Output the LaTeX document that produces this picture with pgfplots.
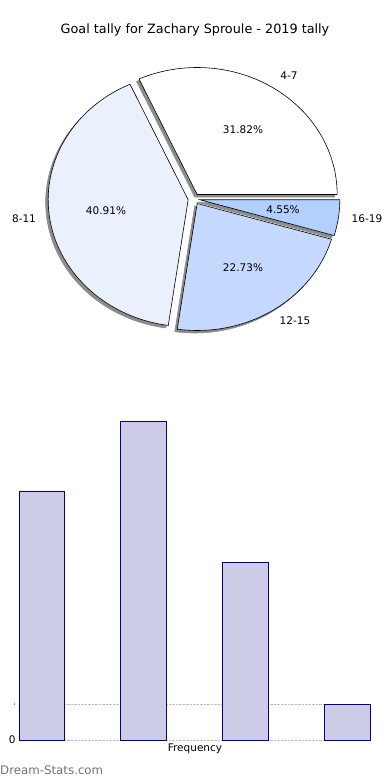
\documentclass[border=0pt]{standalone}
\usepackage{fontspec}
\setmainfont{DejaVu Sans}
\usepackage{pgfplots}
\pgfplotsset{compat=1.18}
\definecolor{cA}{RGB}{255,255,255}
\definecolor{cB}{RGB}{234,241,253}
\definecolor{cC}{RGB}{197,216,253}
\definecolor{cD}{RGB}{178,208,254}
\definecolor{barfill}{RGB}{204,204,230}
\definecolor{baredge}{RGB}{0,0,150}
\definecolor{shadowc}{RGB}{140,140,140}

% data: goal tally counts per range
\def\nA{7}\def\nB{9}\def\nC{5}\def\nD{1}
\pgfmathsetmacro\tot{\nA+\nB+\nC+\nD}
\pgfmathsetmacro\aA{360*\nA/\tot}
\pgfmathsetmacro\aB{\aA+360*\nB/\tot}
\pgfmathsetmacro\aC{\aB+360*\nC/\tot}
\def\aD{360}
\def\RX{140}\def\RY{127}
\newcommand\mkoff[3]{%
  \pgfmathsetmacro\tmpm{(#2+#3)/2}%
  \pgfmathsetmacro\tmpx{194+0.042*\RX*cos(\tmpm)}%
  \pgfmathsetmacro\tmpy{581+0.042*\RY*sin(\tmpm)}%
  \pgfmathsetmacro\tmpsx{\tmpx-2.5}%
  \pgfmathsetmacro\tmpsy{\tmpy-2.5}%
  \expandafter\let\csname cx#1\endcsname\tmpx
  \expandafter\let\csname cy#1\endcsname\tmpy
  \expandafter\let\csname sx#1\endcsname\tmpsx
  \expandafter\let\csname sy#1\endcsname\tmpsy}
\mkoff{A}{0}{\aA}
\mkoff{B}{\aA}{\aB}
\mkoff{C}{\aB}{\aC}
\mkoff{D}{\aC}{\aD}
\newcommand\pieslice[6]{% start end cx cy fill drawcolor
  \addplot[draw=#6, line width=0.6pt, fill=#5, domain=#1:#2, samples=80, variable=\t]
    ({#3+\RX*cos(t)},{#4+\RY*sin(t)}) -- (axis cs:#3,#4) -- cycle;}

\begin{document}
\begin{tikzpicture}
\begin{axis}[at={(0pt,0pt)}, anchor=south west, scale only axis, width=390pt, height=780pt,
  xmin=0, xmax=390, ymin=0, ymax=780, hide axis, clip=false]
% shadows
\pieslice{0}{\aA}{\sxA}{\syA}{shadowc}{shadowc}
\pieslice{\aA}{\aB}{\sxB}{\syB}{shadowc}{shadowc}
\pieslice{\aB}{\aC}{\sxC}{\syC}{shadowc}{shadowc}
\pieslice{\aC}{\aD}{\sxD}{\syD}{shadowc}{shadowc}
% wedges
\pieslice{0}{\aA}{\cxA}{\cyA}{cA}{black}
\pieslice{\aA}{\aB}{\cxB}{\cyB}{cB}{black}
\pieslice{\aB}{\aC}{\cxC}{\cyC}{cC}{black}
\pieslice{\aC}{\aD}{\cxD}{\cyD}{cD}{black}
\begin{scope}[font=\fontsize{10.5}{12}\selectfont]
\node at (axis cs:289,704) {4-7};
\node at (axis cs:243,650) {31.82\%};
\node at (axis cs:24,561) {8-11};
\node at (axis cs:106,569) {40.91\%};
\node at (axis cs:295,459) {12-15};
\node at (axis cs:243,512) {22.73\%};
\node at (axis cs:367,561) {16-19};
\node at (axis cs:283,570) {4.55\%};
\node at (axis cs:195,31) {Frequency};
\end{scope}
\node[font=\fontsize{12.8}{15}\selectfont] at (axis cs:195,750) {Goal tally for Zachary Sproule - 2019 tally};
\node[anchor=west, inner sep=0pt, text=black!55, font=\fontsize{11.8}{14}\selectfont] at (axis cs:0,10) {Dream-Stats.com};
\end{axis}
\begin{axis}[at={(19pt,40pt)}, anchor=south west, scale only axis, width=351pt, height=319pt,
  xmin=0, xmax=3.45, ymin=0, ymax=9, axis line style={draw=none}, xtick=\empty,
  ytick={0,1}, yticklabels={0,{\fontsize{3}{3}\selectfont 1}}, major tick length=0pt,
  ymajorgrids, grid style={densely dotted, black!25, line width=0.8pt},
  ticklabel style={font=\fontsize{10.5}{12}\selectfont}, clip=false]
\addplot[ybar, bar width=0.45, fill=barfill, draw=baredge, line width=0.9pt]
  coordinates {(0.225,7) (1.225,9) (2.225,5) (3.225,1)};
\end{axis}
\pgfresetboundingbox
\path (0pt,0pt) rectangle (390pt,780pt);
\end{tikzpicture}
\end{document}
